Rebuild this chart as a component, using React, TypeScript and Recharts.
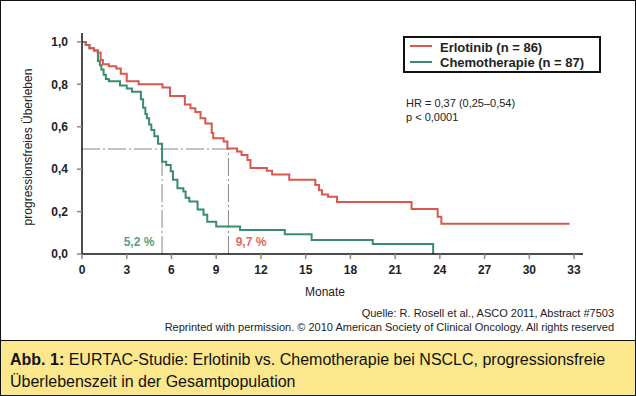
import React from 'react';
import { LineChart, Line, XAxis, YAxis, ReferenceLine } from 'recharts';

const erlotinibMonths = [0, 0.25, 0.5, 0.8, 1.05, 1.25, 1.4, 1.8, 2.3, 2.6, 3.0, 3.8, 5.4, 5.9, 6.9, 7.27, 7.6, 7.95, 8.27, 8.7, 8.8, 9.5, 9.75, 10.4, 10.7, 11.1, 11.3, 12.4, 12.75, 13.9, 15.65, 15.9, 16.1, 16.5, 17.1, 22.1, 23.85, 24.1, 32.7];
const erlotinibSurvival = [1.0, 0.985, 0.97, 0.96, 0.95, 0.915, 0.895, 0.885, 0.875, 0.85, 0.815, 0.8, 0.785, 0.745, 0.705, 0.687, 0.67, 0.64, 0.615, 0.57, 0.546, 0.53, 0.497, 0.483, 0.467, 0.443, 0.405, 0.392, 0.375, 0.35, 0.325, 0.3, 0.28, 0.27, 0.245, 0.212, 0.176, 0.143, 0.143];

const chemoMonths = [0, 0.25, 0.5, 0.8, 1.07, 1.2, 1.3, 1.45, 1.6, 1.8, 2.55, 3.0, 3.35, 3.95, 4.1, 4.25, 4.35, 4.5, 4.65, 4.85, 5.1, 5.37, 5.65, 5.95, 6.1, 6.4, 6.8, 6.95, 7.2, 7.75, 8.15, 8.4, 9.0, 10.6, 13.6, 15.4, 19.5, 23.55];
const chemoSurvival = [1.0, 0.985, 0.97, 0.96, 0.91, 0.89, 0.87, 0.845, 0.825, 0.815, 0.795, 0.78, 0.765, 0.73, 0.69, 0.66, 0.64, 0.61, 0.585, 0.555, 0.52, 0.435, 0.42, 0.39, 0.35, 0.31, 0.295, 0.265, 0.247, 0.21, 0.185, 0.152, 0.13, 0.113, 0.093, 0.066, 0.047, 0.0];

const xTicks = [0, 3, 6, 9, 12, 15, 18, 21, 24, 27, 30, 33];
const yTicks = [0, 0.2, 0.4, 0.6, 0.8, 1.0];
const medianLevel = 0.495;
const medianChemo = 5.37;
const medianErlotinib = 9.82;

const erlotinibData = erlotinibMonths.map((m, i) => ({ t: m, s: erlotinibSurvival[i] }));
const chemoData = chemoMonths.map((m, i) => ({ t: m, s: chemoSurvival[i] }));

const RED = '#d8574e';
const GREEN = '#3b8c6c';
const FONT = '"Liberation Sans", Arial, Helvetica, sans-serif';

export default function App() {
  return (
    <div style={{ position: 'absolute', left: 0, top: 0, width: 636, height: 396, boxSizing: 'border-box', border: '1px solid #111', background: '#fff', fontFamily: FONT, overflow: 'hidden' }}>
      <div style={{ position: 'absolute', left: -1, top: -1 }}>
        <LineChart width={636} height={340} margin={{ top: 33, right: 53, left: 0, bottom: 56 }}>
          <XAxis
            type="number"
            dataKey="t"
            domain={[0, 33.6]}
            ticks={xTicks}
            allowDataOverflow
            stroke="#111"
            strokeWidth={1.5}
            tickSize={5}
            tickMargin={6}
            height={30}
            tick={{ fill: '#222', fontSize: 12, fontWeight: 700, fontFamily: FONT }}
            tickLine={{ stroke: '#888' }}
          />
          <YAxis
            type="number"
            dataKey="s"
            domain={[0, 1.042]}
            ticks={yTicks}
            allowDataOverflow
            width={82}
            stroke="#111"
            strokeWidth={1.5}
            tickSize={5}
            tickMargin={9}
            tickFormatter={(v: number) => v.toFixed(1).replace('.', ',')}
            tick={{ fill: '#222', fontSize: 12, fontWeight: 700, fontFamily: FONT }}
            tickLine={{ stroke: '#888' }}
          />
          <ReferenceLine segment={[{ x: 0, y: medianLevel }, { x: medianErlotinib, y: medianLevel }]} stroke="#888" strokeWidth={1} strokeDasharray="18 3 2 3" />
          <ReferenceLine segment={[{ x: medianChemo, y: 0 }, { x: medianChemo, y: medianLevel }]} stroke="#888" strokeWidth={1} strokeDasharray="18 3 2 3" />
          <ReferenceLine segment={[{ x: medianErlotinib, y: 0 }, { x: medianErlotinib, y: medianLevel }]} stroke="#888" strokeWidth={1} strokeDasharray="18 3 2 3" />
          <Line data={chemoData} dataKey="s" type="stepAfter" stroke={GREEN} strokeWidth={2} dot={false} isAnimationActive={false} />
          <Line data={erlotinibData} dataKey="s" type="stepAfter" stroke={RED} strokeWidth={2} dot={false} isAnimationActive={false} />
        </LineChart>
      </div>
      <svg width={636} height={340} style={{ position: 'absolute', left: -1, top: -1, pointerEvents: 'none' }}>
        <text x={28} y={147} transform="rotate(-90 28 147)" textAnchor="middle" dominantBaseline="central" fontSize={12} fill="#222" fontFamily={FONT}>progressionsfreies Überleben</text>
        <text x={325} y={292} textAnchor="middle" dominantBaseline="central" fontSize={12} fill="#222" fontFamily={FONT}>Monate</text>
        <text x={139} y={242} textAnchor="middle" dominantBaseline="central" fontSize={12} fontWeight={700} fill="#55a184" fontFamily={FONT}>5,2 %</text>
        <text x={251} y={242} textAnchor="middle" dominantBaseline="central" fontSize={12} fontWeight={700} fill="#e26a60" fontFamily={FONT}>9,7 %</text>
        <text x={406} y={103} dominantBaseline="central" fontSize={11} fill="#222" fontFamily={FONT}>HR = 0,37 (0,25–0,54)</text>
        <text x={406} y={117} dominantBaseline="central" fontSize={11} fill="#222" fontFamily={FONT}>p &lt; 0,0001</text>
        <rect x={404} y={37} width={196} height={35} fill="#fff" stroke="#111" strokeWidth={2} />
        <line x1={410} x2={432} y1={46} y2={46} stroke={RED} strokeWidth={2} />
        <line x1={410} x2={432} y1={62} y2={62} stroke={GREEN} strokeWidth={2} />
        <text x={440} y={47} dominantBaseline="central" fontSize={13} fontWeight={700} fill="#222" fontFamily={FONT}>Erlotinib (n = 86)</text>
        <text x={440} y={62} dominantBaseline="central" fontSize={13} fontWeight={700} fill="#222" fontFamily={FONT}>Chemotherapie (n = 87)</text>
        <text x={614} y={313} textAnchor="end" dominantBaseline="central" fontSize={11} fill="#222" fontFamily={FONT}>Quelle: R. Rosell et al., ASCO 2011, Abstract #7503</text>
        <text x={614} y={327} textAnchor="end" dominantBaseline="central" fontSize={11} fill="#222" fontFamily={FONT}>Reprinted with permission. © 2010 American Society of Clinical Oncology. All rights reserved</text>
      </svg>
      <div style={{ position: 'absolute', left: -1, top: 339, width: 636, height: 57, boxSizing: 'border-box', borderTop: '1px solid #111', background: '#fbe78c', padding: '8px 10px', fontSize: 16, lineHeight: '22px', color: '#111', fontFamily: FONT }}>
        <b>Abb. 1:</b> EURTAC-Studie: Erlotinib vs. Chemotherapie bei NSCLC, progressionsfreie<br />Überlebenszeit in der Gesamtpopulation
      </div>
    </div>
  );
}
